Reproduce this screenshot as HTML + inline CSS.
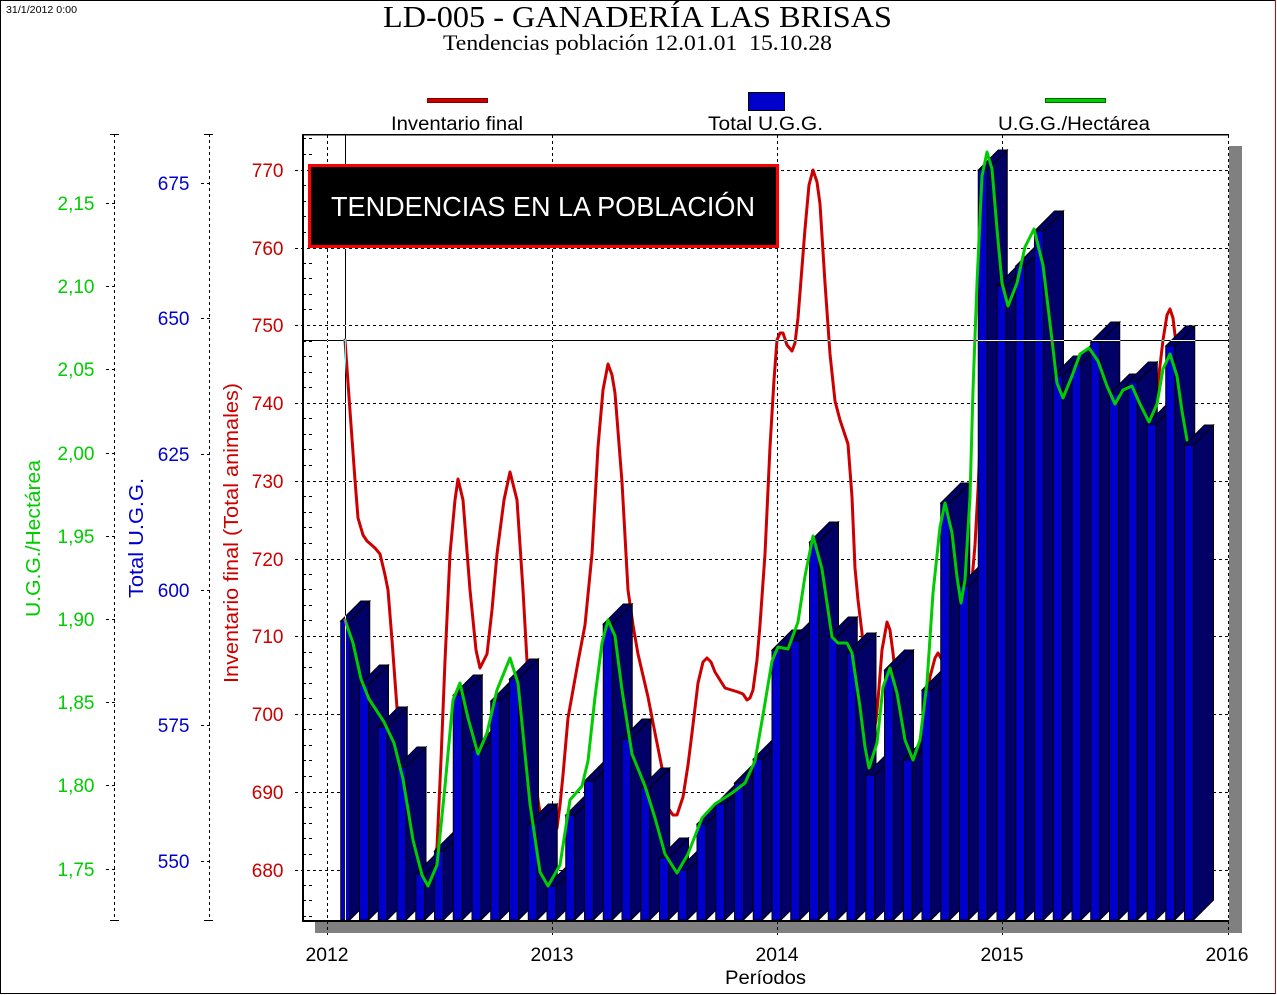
<!DOCTYPE html>
<html><head><meta charset="utf-8">
<style>
html,body{margin:0;padding:0;background:#fff;}
body{width:1277px;height:995px;overflow:hidden;}
svg{display:block;}
text{font-family:"Liberation Sans",Arial,sans-serif;}
.b path{fill:#000066;stroke:#000;stroke-width:1;}
.b rect{fill:#0000cc;stroke:#000;stroke-width:1;}
.d{stroke:#000;stroke-width:1;stroke-dasharray:3,3;fill:none;}
</style></head>
<body>
<svg width="1277" height="995" viewBox="0 0 1277 995" xmlns="http://www.w3.org/2000/svg">
<rect x="0" y="0" width="1277" height="995" fill="#fff"/>
<!-- outer border -->
<rect x="0.5" y="0.5" width="1275" height="993" fill="none" stroke="#000" stroke-width="1"/>
<line x1="1275.5" y1="0" x2="1275.5" y2="994" stroke="#e00000" stroke-width="1"/>

<text x="6" y="13" font-size="10.5" textLength="71" lengthAdjust="spacingAndGlyphs" fill="#000">31/1/2012 0:00</text>
<text x="637.5" y="27" text-anchor="middle" font-size="31" textLength="509" lengthAdjust="spacingAndGlyphs" style="font-family:'Liberation Serif',serif" fill="#000">LD-005 - GANADERÍA LAS BRISAS</text>
<text x="637.5" y="50" text-anchor="middle" font-size="22" textLength="389" lengthAdjust="spacingAndGlyphs" style="font-family:'Liberation Serif',serif;white-space:pre" fill="#000">Tendencias población 12.01.01  15.10.28</text>

<!-- legend -->
<rect x="427.5" y="98.5" width="60" height="4" fill="#cc0000" stroke="#800000"/>
<text x="457" y="130" text-anchor="middle" font-size="19" textLength="132" lengthAdjust="spacingAndGlyphs" fill="#000">Inventario final</text>
<rect x="748.5" y="92.5" width="36" height="18" fill="#0000cc" stroke="#000"/>
<text x="765.5" y="130" text-anchor="middle" font-size="19" textLength="115" lengthAdjust="spacingAndGlyphs" fill="#000">Total U.G.G.</text>
<rect x="1045.5" y="98.5" width="60" height="4" fill="#00cc00" stroke="#006600"/>
<text x="1074" y="130" text-anchor="middle" font-size="19" textLength="152" lengthAdjust="spacingAndGlyphs" fill="#000">U.G.G./Hectárea</text>

<!-- axis titles -->
<text transform="translate(40,538.5) rotate(-90)" text-anchor="middle" font-size="20" textLength="157" lengthAdjust="spacingAndGlyphs" fill="#00cc00">U.G.G./Hectárea</text>
<text transform="translate(143,538) rotate(-90)" text-anchor="middle" font-size="20" textLength="120" lengthAdjust="spacingAndGlyphs" fill="#0000cc">Total U.G.G.</text>
<text transform="translate(238,533) rotate(-90)" text-anchor="middle" font-size="20" textLength="300" lengthAdjust="spacingAndGlyphs" fill="#cc0000">Inventario final (Total animales)</text>

<!-- green axis -->
<line class="d" x1="114.5" y1="134" x2="114.5" y2="921"/>
<path d="M110 134.5H119M110 920.5H119" stroke="#000" stroke-width="1"/>
<path class="d" d="M106 203.5h9M106 286.5h9M106 369.5h9M106 453.5h9M106 536.5h9M106 619.5h9M106 702.5h9M106 785.5h9M106 869.5h9"/>
<g font-size="19" fill="#00cc00" text-anchor="end">
<text x="94.5" y="210">2,15</text><text x="94.5" y="293">2,10</text><text x="94.5" y="376">2,05</text><text x="94.5" y="460">2,00</text><text x="94.5" y="543">1,95</text><text x="94.5" y="626">1,90</text><text x="94.5" y="709">1,85</text><text x="94.5" y="792">1,80</text><text x="94.5" y="876">1,75</text>
</g>

<!-- blue axis -->
<line class="d" x1="209.5" y1="134" x2="209.5" y2="921"/>
<path d="M204 134.5H213M204 920.5H213" stroke="#000" stroke-width="1"/>
<path class="d" d="M201 183.5h9M201 318.5h9M201 454.5h9M201 590.5h9M201 725.5h9M201 861.5h9"/>
<g font-size="19" fill="#0000cc" text-anchor="end">
<text x="189.5" y="190">675</text><text x="189.5" y="325">650</text><text x="189.5" y="461">625</text><text x="189.5" y="597">600</text><text x="189.5" y="732">575</text><text x="189.5" y="868">550</text>
</g>

<!-- red axis labels -->
<g font-size="19" fill="#cc0000" text-anchor="end">
<text x="283.5" y="177">770</text><text x="283.5" y="255">760</text><text x="283.5" y="332">750</text><text x="283.5" y="410">740</text><text x="283.5" y="488">730</text><text x="283.5" y="566">720</text><text x="283.5" y="643">710</text><text x="283.5" y="721">700</text><text x="283.5" y="799">690</text><text x="283.5" y="877">680</text>
</g>

<!-- shadow -->
<rect x="1229" y="146" width="13" height="787" fill="#808080"/>
<rect x="315" y="922" width="927" height="11" fill="#808080"/>

<!-- plot bg -->
<rect x="303" y="135" width="925" height="785" fill="#fff"/>

<!-- gridlines -->
<path class="d" d="M295 170.5H1228M295 248.5H1228M295 325.5H1228M295 403.5H1228M295 481.5H1228M295 559.5H1228M295 636.5H1228M295 714.5H1228M295 792.5H1228M295 870.5H1228"/>
<path class="d" d="M327.5 135V935M552.5 135V935M777.5 135V935M1002.5 135V935"/>
<path class="d" d="M303 916.5h9M303 900.5h9M303 885.5h9M303 854.5h9M303 838.5h9M303 823.5h9M303 807.5h9M303 776.5h9M303 760.5h9M303 745.5h9M303 729.5h9M303 698.5h9M303 683.5h9M303 667.5h9M303 652.5h9M303 620.5h9M303 605.5h9M303 589.5h9M303 574.5h9M303 543.5h9M303 527.5h9M303 512.5h9M303 496.5h9M303 465.5h9M303 449.5h9M303 434.5h9M303 418.5h9M303 387.5h9M303 372.5h9M303 356.5h9M303 341.5h9M303 309.5h9M303 294.5h9M303 278.5h9M303 263.5h9M303 232.5h9M303 216.5h9M303 201.5h9M303 185.5h9M303 154.5h9M303 138.5h9"/>

<!-- red line (behind bars) -->
<polyline fill="none" stroke="#cc0000" stroke-width="3" stroke-linejoin="round" stroke-linecap="round" points="345,340 350,411 355,480 358,518 363,535 367,541 375,548 380,554 385,575 388,590 392,640 397,708 402,740 408,765 416,800 422,845 426,866 431,868 434,860 437,847 441,760 445,661 450,554 455,500 458,479 463,500 470,590 476,650 480,668 487,654 492,610 497,554 504,500 510,472 517,500 523,590 527,661 530,720 534,765 538,800 542,825 548,838 553,836 557,828 560,805 563,775 568,718 573,690 578,662 585,625 592,554 598,447 603,390 608,364 612,375 615,393 622,482 628,590 633,625 638,654 648,697 655,733 662,768 668,808 673,815 677,815 683,797 688,765 692,733 698,683 703,662 707,658 711,662 715,672 725,688 738,692 743,694 747,700 750,698 753,690 757,660 760,625 765,554 770,447 774,380 777,340 780,333 783,333 787,345 792,351 795,343 798,318 805,229 809,185 813,170 817,182 820,204 825,283 830,354 835,401 840,420 842,426 848,444 852,497 855,568 858,600 862,633 866,680 870,720 873,735 876,720 878,700 882,650 887,622 890,630 893,653 897,690 903,720 910,750 915,765 920,757 925,720 930,677 935,658 938,653 942,660 946,680 950,620 960,640 968,610 972,580 975,545 978,490 982,400 985,350 992,300 1000,320 1010,340 1020,300 1028,268 1033,258 1040,270 1050,330 1060,400 1070,420 1080,400 1090,380 1100,390 1110,420 1120,420 1130,410 1140,420 1150,430 1155,410 1158,383 1163,340 1167,315 1170,309 1173,318 1175,335 1180,360 1187,420"/>

<!-- bars -->
<g class="b">
<g transform="translate(345.25,621)"><path d="M4.5 0L24.5-20V279L4.5 299Z"/><path d="M-4.5 0H4.5L24.5-20H15.5Z"/><rect x="-4.5" y="0" width="9" height="299"/></g>
<g transform="translate(364,685)"><path d="M4.5 0L24.5-20V215L4.5 235Z"/><path d="M-4.5 0H4.5L24.5-20H15.5Z"/><rect x="-4.5" y="0" width="9" height="235"/></g>
<g transform="translate(382.75,727)"><path d="M4.5 0L24.5-20V173L4.5 193Z"/><path d="M-4.5 0H4.5L24.5-20H15.5Z"/><rect x="-4.5" y="0" width="9" height="193"/></g>
<g transform="translate(401.5,767)"><path d="M4.5 0L24.5-20V133L4.5 153Z"/><path d="M-4.5 0H4.5L24.5-20H15.5Z"/><rect x="-4.5" y="0" width="9" height="153"/></g>
<g transform="translate(420.25,874)"><path d="M4.5 0L24.5-20V26L4.5 46Z"/><path d="M-4.5 0H4.5L24.5-20H15.5Z"/><rect x="-4.5" y="0" width="9" height="46"/></g>
<g transform="translate(439,851)"><path d="M4.5 0L24.5-20V49L4.5 69Z"/><path d="M-4.5 0H4.5L24.5-20H15.5Z"/><rect x="-4.5" y="0" width="9" height="69"/></g>
<g transform="translate(457.75,695)"><path d="M4.5 0L24.5-20V205L4.5 225Z"/><path d="M-4.5 0H4.5L24.5-20H15.5Z"/><rect x="-4.5" y="0" width="9" height="225"/></g>
<g transform="translate(476.5,750)"><path d="M4.5 0L24.5-20V150L4.5 170Z"/><path d="M-4.5 0H4.5L24.5-20H15.5Z"/><rect x="-4.5" y="0" width="9" height="170"/></g>
<g transform="translate(495.25,701)"><path d="M4.5 0L24.5-20V199L4.5 219Z"/><path d="M-4.5 0H4.5L24.5-20H15.5Z"/><rect x="-4.5" y="0" width="9" height="219"/></g>
<g transform="translate(514,679)"><path d="M4.5 0L24.5-20V221L4.5 241Z"/><path d="M-4.5 0H4.5L24.5-20H15.5Z"/><rect x="-4.5" y="0" width="9" height="241"/></g>
<g transform="translate(532.75,824)"><path d="M4.5 0L24.5-20V76L4.5 96Z"/><path d="M-4.5 0H4.5L24.5-20H15.5Z"/><rect x="-4.5" y="0" width="9" height="96"/></g>
<g transform="translate(551.5,886)"><path d="M4.5 0L24.5-20V14L4.5 34Z"/><path d="M-4.5 0H4.5L24.5-20H15.5Z"/><rect x="-4.5" y="0" width="9" height="34"/></g>
<g transform="translate(570.25,815)"><path d="M4.5 0L24.5-20V85L4.5 105Z"/><path d="M-4.5 0H4.5L24.5-20H15.5Z"/><rect x="-4.5" y="0" width="9" height="105"/></g>
<g transform="translate(589,781)"><path d="M4.5 0L24.5-20V119L4.5 139Z"/><path d="M-4.5 0H4.5L24.5-20H15.5Z"/><rect x="-4.5" y="0" width="9" height="139"/></g>
<g transform="translate(607.75,624)"><path d="M4.5 0L24.5-20V276L4.5 296Z"/><path d="M-4.5 0H4.5L24.5-20H15.5Z"/><rect x="-4.5" y="0" width="9" height="296"/></g>
<g transform="translate(626.5,739)"><path d="M4.5 0L24.5-20V161L4.5 181Z"/><path d="M-4.5 0H4.5L24.5-20H15.5Z"/><rect x="-4.5" y="0" width="9" height="181"/></g>
<g transform="translate(645.25,788)"><path d="M4.5 0L24.5-20V112L4.5 132Z"/><path d="M-4.5 0H4.5L24.5-20H15.5Z"/><rect x="-4.5" y="0" width="9" height="132"/></g>
<g transform="translate(664,858)"><path d="M4.5 0L24.5-20V42L4.5 62Z"/><path d="M-4.5 0H4.5L24.5-20H15.5Z"/><rect x="-4.5" y="0" width="9" height="62"/></g>
<g transform="translate(682.75,870)"><path d="M4.5 0L24.5-20V30L4.5 50Z"/><path d="M-4.5 0H4.5L24.5-20H15.5Z"/><rect x="-4.5" y="0" width="9" height="50"/></g>
<g transform="translate(701.5,824)"><path d="M4.5 0L24.5-20V76L4.5 96Z"/><path d="M-4.5 0H4.5L24.5-20H15.5Z"/><rect x="-4.5" y="0" width="9" height="96"/></g>
<g transform="translate(720.25,804)"><path d="M4.5 0L24.5-20V96L4.5 116Z"/><path d="M-4.5 0H4.5L24.5-20H15.5Z"/><rect x="-4.5" y="0" width="9" height="116"/></g>
<g transform="translate(739,783)"><path d="M4.5 0L24.5-20V117L4.5 137Z"/><path d="M-4.5 0H4.5L24.5-20H15.5Z"/><rect x="-4.5" y="0" width="9" height="137"/></g>
<g transform="translate(757.75,759)"><path d="M4.5 0L24.5-20V141L4.5 161Z"/><path d="M-4.5 0H4.5L24.5-20H15.5Z"/><rect x="-4.5" y="0" width="9" height="161"/></g>
<g transform="translate(776.5,650)"><path d="M4.5 0L24.5-20V250L4.5 270Z"/><path d="M-4.5 0H4.5L24.5-20H15.5Z"/><rect x="-4.5" y="0" width="9" height="270"/></g>
<g transform="translate(795.25,641)"><path d="M4.5 0L24.5-20V259L4.5 279Z"/><path d="M-4.5 0H4.5L24.5-20H15.5Z"/><rect x="-4.5" y="0" width="9" height="279"/></g>
<g transform="translate(814,542)"><path d="M4.5 0L24.5-20V358L4.5 378Z"/><path d="M-4.5 0H4.5L24.5-20H15.5Z"/><rect x="-4.5" y="0" width="9" height="378"/></g>
<g transform="translate(832.75,637)"><path d="M4.5 0L24.5-20V263L4.5 283Z"/><path d="M-4.5 0H4.5L24.5-20H15.5Z"/><rect x="-4.5" y="0" width="9" height="283"/></g>
<g transform="translate(851.5,653)"><path d="M4.5 0L24.5-20V247L4.5 267Z"/><path d="M-4.5 0H4.5L24.5-20H15.5Z"/><rect x="-4.5" y="0" width="9" height="267"/></g>
<g transform="translate(870.25,775)"><path d="M4.5 0L24.5-20V125L4.5 145Z"/><path d="M-4.5 0H4.5L24.5-20H15.5Z"/><rect x="-4.5" y="0" width="9" height="145"/></g>
<g transform="translate(889,670)"><path d="M4.5 0L24.5-20V230L4.5 250Z"/><path d="M-4.5 0H4.5L24.5-20H15.5Z"/><rect x="-4.5" y="0" width="9" height="250"/></g>
<g transform="translate(907.75,760)"><path d="M4.5 0L24.5-20V140L4.5 160Z"/><path d="M-4.5 0H4.5L24.5-20H15.5Z"/><rect x="-4.5" y="0" width="9" height="160"/></g>
<g transform="translate(926.5,690)"><path d="M4.5 0L24.5-20V210L4.5 230Z"/><path d="M-4.5 0H4.5L24.5-20H15.5Z"/><rect x="-4.5" y="0" width="9" height="230"/></g>
<g transform="translate(945.25,503)"><path d="M4.5 0L24.5-20V397L4.5 417Z"/><path d="M-4.5 0H4.5L24.5-20H15.5Z"/><rect x="-4.5" y="0" width="9" height="417"/></g>
<g transform="translate(964,586)"><path d="M4.5 0L24.5-20V314L4.5 334Z"/><path d="M-4.5 0H4.5L24.5-20H15.5Z"/><rect x="-4.5" y="0" width="9" height="334"/></g>
<g transform="translate(982.75,170)"><path d="M4.5 0L24.5-20V730L4.5 750Z"/><path d="M-4.5 0H4.5L24.5-20H15.5Z"/><rect x="-4.5" y="0" width="9" height="750"/></g>
<g transform="translate(1001.5,286)"><path d="M4.5 0L24.5-20V614L4.5 634Z"/><path d="M-4.5 0H4.5L24.5-20H15.5Z"/><rect x="-4.5" y="0" width="9" height="634"/></g>
<g transform="translate(1020.25,266)"><path d="M4.5 0L24.5-20V634L4.5 654Z"/><path d="M-4.5 0H4.5L24.5-20H15.5Z"/><rect x="-4.5" y="0" width="9" height="654"/></g>
<g transform="translate(1039,231)"><path d="M4.5 0L24.5-20V669L4.5 689Z"/><path d="M-4.5 0H4.5L24.5-20H15.5Z"/><rect x="-4.5" y="0" width="9" height="689"/></g>
<g transform="translate(1057.75,376)"><path d="M4.5 0L24.5-20V524L4.5 544Z"/><path d="M-4.5 0H4.5L24.5-20H15.5Z"/><rect x="-4.5" y="0" width="9" height="544"/></g>
<g transform="translate(1076.5,364)"><path d="M4.5 0L24.5-20V536L4.5 556Z"/><path d="M-4.5 0H4.5L24.5-20H15.5Z"/><rect x="-4.5" y="0" width="9" height="556"/></g>
<g transform="translate(1095.25,342)"><path d="M4.5 0L24.5-20V558L4.5 578Z"/><path d="M-4.5 0H4.5L24.5-20H15.5Z"/><rect x="-4.5" y="0" width="9" height="578"/></g>
<g transform="translate(1114,394)"><path d="M4.5 0L24.5-20V506L4.5 526Z"/><path d="M-4.5 0H4.5L24.5-20H15.5Z"/><rect x="-4.5" y="0" width="9" height="526"/></g>
<g transform="translate(1132.75,382)"><path d="M4.5 0L24.5-20V518L4.5 538Z"/><path d="M-4.5 0H4.5L24.5-20H15.5Z"/><rect x="-4.5" y="0" width="9" height="538"/></g>
<g transform="translate(1151.5,424)"><path d="M4.5 0L24.5-20V476L4.5 496Z"/><path d="M-4.5 0H4.5L24.5-20H15.5Z"/><rect x="-4.5" y="0" width="9" height="496"/></g>
<g transform="translate(1170.25,346)"><path d="M4.5 0L24.5-20V554L4.5 574Z"/><path d="M-4.5 0H4.5L24.5-20H15.5Z"/><rect x="-4.5" y="0" width="9" height="574"/></g>
<g transform="translate(1189,445)"><path d="M4.5 0L24.5-20V455L4.5 475Z"/><path d="M-4.5 0H4.5L24.5-20H15.5Z"/><rect x="-4.5" y="0" width="9" height="475"/></g>
</g>

<!-- green line -->
<polyline fill="none" stroke="#00cc00" stroke-width="3" stroke-linejoin="round" stroke-linecap="round" points="345,620 353,643 361,679 369,699 384,722 394,743 403,779 413,840 422,875 428,886 437,865 445,786 453,700 460,683 468,718 478,754 487,733 497,690 510,658 518,683 530,804 540,872 548,886 560,865 570,800 582,786 588,761 595,697 602,643 608,620 615,636 622,690 632,754 645,786 655,818 665,854 677,873 688,854 702,818 715,804 732,793 745,783 755,761 763,715 772,661 778,647 788,649 798,622 805,576 813,536 822,569 832,637 838,643 847,643 852,653 860,707 865,747 869,768 877,743 883,687 890,668 897,693 905,740 913,760 920,740 927,683 933,593 940,527 945,503 952,533 957,577 961,603 965,580 970,497 973,390 977,283 982,176 987,152 992,169 997,229 1002,283 1008,306 1017,283 1025,247 1034,229 1043,265 1052,340 1057,383 1063,398 1072,376 1080,354 1089,348 1098,361 1107,386 1115,404 1123,390 1132,386 1140,404 1149,422 1157,404 1163,369 1170,354 1177,376 1182,411 1187,440"/>

<!-- crosshair (XOR-like) -->
<g style="mix-blend-mode:difference">
<line x1="345.5" y1="135" x2="345.5" y2="920" stroke="#fff" stroke-width="1"/>
<line x1="304" y1="340.5" x2="1228" y2="340.5" stroke="#fff" stroke-width="1"/>
</g>

<!-- plot frame -->
<line x1="302" y1="134.75" x2="1229" y2="134.75" stroke="#000" stroke-width="1.5"/>
<line x1="303" y1="134" x2="303" y2="922" stroke="#000" stroke-width="2"/>
<line x1="302" y1="921" x2="1229" y2="921" stroke="#000" stroke-width="2"/>
<line class="d" x1="1228.5" y1="135" x2="1228.5" y2="935"/>

<!-- title box -->
<rect x="309.5" y="165.5" width="468" height="81" fill="#000" stroke="#ff0000" stroke-width="3"/>
<text x="331" y="216" font-size="28" textLength="424" lengthAdjust="spacingAndGlyphs" fill="#fff">TENDENCIAS EN LA POBLACIÓN</text>

<!-- x axis labels -->
<g font-size="19" fill="#000" text-anchor="middle">
<text x="327" y="961" textLength="43" lengthAdjust="spacingAndGlyphs">2012</text>
<text x="552" y="961" textLength="43" lengthAdjust="spacingAndGlyphs">2013</text>
<text x="777" y="961" textLength="43" lengthAdjust="spacingAndGlyphs">2014</text>
<text x="1002" y="961" textLength="43" lengthAdjust="spacingAndGlyphs">2015</text>
<text x="1227" y="961" textLength="43" lengthAdjust="spacingAndGlyphs">2016</text>
<text x="765.5" y="984" textLength="81" lengthAdjust="spacingAndGlyphs">Períodos</text>
</g>
</svg>
</body></html>
